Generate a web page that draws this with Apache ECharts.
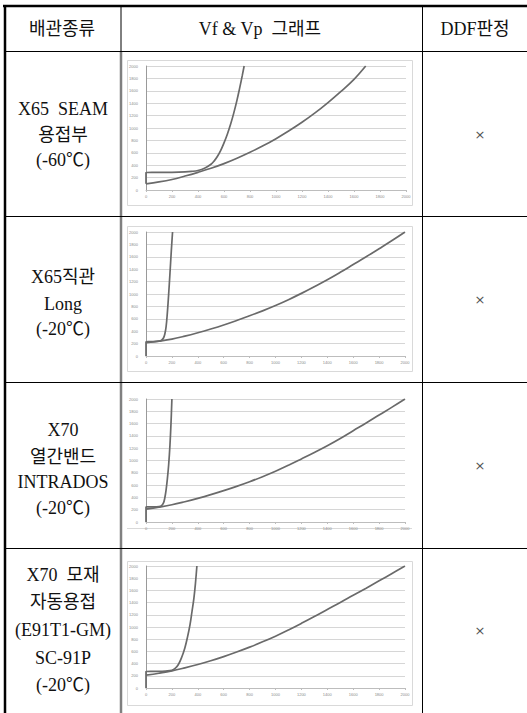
<!DOCTYPE html>
<html><head><meta charset="utf-8">
<script src="https://cdn.jsdelivr.net/npm/echarts@6/dist/echarts.min.js"></script>
<style>html,body{margin:0;padding:0;background:#fff}#c{width:527px;height:713px}</style>
</head><body><div id="c"></div>
<script>
// ---------- data ----------
const headers = ['배관종류', 'Vf & Vp  그래프', 'DDF판정'];
const rowLabels = [
  ['X65  SEAM', '용접부', '(-60℃)'],
  ['X65직관', 'Long', '(-20℃)'],
  ['X70', '열간밴드', 'INTRADOS', '(-20℃)'],
  ['X70  모재', '자동용접', '(E91T1-GM)', 'SC-91P', '(-20℃)']
];
const ddfResults = ['×', '×', '×', '×'];
const axisMin = 0, axisMax = 2000, axisStep = 200;

// steep curves
const vfSeam = [[0,100],[0,282],[100,283],[200,285],[300,292],[350,300],[400,315],[450,350],[500,415],[525,470],[550,545],[575,640],[600,760],[625,895],[650,1055],[675,1240],[700,1450],[720,1640],[740,1840],[755,2000]];
const vfLong = [[0,0],[0,230],[50,232],[100,240],[120,255],[135,290],[145,350],[155,470],[165,700],[175,1000],[185,1330],[195,1680],[205,2000]];
const vfIntrados = [[0,0],[0,245],[60,245],[100,250],[120,265],[135,310],[145,390],[155,520],[165,700],[175,930],[185,1250],[193,1600],[200,2000]];
const vfAuto = [[0,0],[0,270],[100,272],[150,278],[200,290],[225,320],[250,386],[275,500],[300,657],[320,830],[340,1038],[355,1250],[370,1473],[382,1720],[393,2000]];
// gradual curves
const vpSeam = [[0,100],[100,130],[200,170],[300,225],[400,285],[500,350],[600,425],[700,512],[800,608],[900,712],[1000,828],[1100,955],[1200,1092],[1300,1243],[1400,1410],[1500,1590],[1600,1785],[1690,2000]];
const vpLong = [[0,215],[100,240],[200,272],[300,320],[400,375],[500,435],[600,500],[700,572],[800,648],[900,728],[1000,814],[1100,908],[1200,1010],[1300,1118],[1400,1230],[1500,1350],[1600,1475],[1700,1600],[1800,1730],[1900,1862],[2000,2000]];
const vpIntrados = [[0,210],[100,242],[200,280],[300,330],[400,385],[500,445],[600,510],[700,580],[800,655],[900,737],[1000,825],[1100,922],[1200,1025],[1300,1130],[1400,1240],[1500,1358],[1600,1485],[1700,1610],[1800,1740],[1900,1868],[2000,2000]];
const vpAuto = [[0,210],[100,242],[200,280],[300,330],[400,385],[500,447],[600,515],[700,590],[800,670],[900,757],[1000,850],[1100,952],[1200,1060],[1300,1172],[1400,1288],[1500,1402],[1600,1520],[1700,1637],[1800,1757],[1900,1878],[2000,2000]];

const steepCurves = [vfSeam, vfLong, vfIntrados, vfAuto];
const gradualCurves = [vpSeam, vpLong, vpIntrados, vpAuto];

// ---------- layout ----------
const gridBoxes = [
  {left:146, top:66,  width:260, height:124},
  {left:146, top:232, width:259, height:124},
  {left:146, top:399, width:259, height:123},
  {left:146, top:566, width:259, height:122}
];
const rowTextY = [[109,135,160],[277,304,329],[430,457,482,508],[575,602,630,658,685]];
const rowCenters = [134, 299, 465, 630];

const FONT = '18px "Liberation Serif", "Noto Sans CJK KR", serif';
const grids = [], xAxes = [], yAxes = [], series = [];
gridBoxes.forEach((g, i) => {
  grids.push(Object.assign({containLabel:false}, g));
  xAxes.push({type:'value', gridIndex:i, min:axisMin, max:axisMax, interval:axisStep,
    axisLine:{show:true, onZero:false, lineStyle:{color:'#bdbdbd', width:1}},
    axisTick:{show:true, length:2, inside:false, lineStyle:{color:'#bdbdbd'}},
    axisLabel:{fontSize:4, color:'#8a8a8a', margin:4, fontFamily:'Arial', formatter:v => String(v)},
    splitLine:{show:false}});
  yAxes.push({type:'value', gridIndex:i, min:axisMin, max:axisMax, interval:axisStep,
    axisLine:{show:true, lineStyle:{color:'#9a9a9a', width:1}},
    axisTick:{show:false},
    axisLabel:{fontSize:4, color:'#8a8a8a', margin:8, fontFamily:'Arial', formatter:v => String(v)},
    splitLine:{show:true, lineStyle:{color:'#d6d6d6', width:1}}});
  [steepCurves[i], gradualCurves[i]].forEach((d) => {
    series.push({type:'line', xAxisIndex:i, yAxisIndex:i, data:d, showSymbol:false,
      smooth:0.4, silent:true, animation:false,
      lineStyle:{color:'#6a6a6a', width:1.7}});
  });
});

const graphic = [];
function line(x1,y1,x2,y2,color,w){ graphic.push({type:'line', silent:true, shape:{x1,y1,x2,y2}, style:{stroke:color, lineWidth:w}}); }
function text(t,x,y,font,color){ graphic.push({type:'text', silent:true, style:{text:t, x, y, font, fill:color||'#111', align:'center', verticalAlign:'middle'}}); }
function rect(x,y,w,h){ graphic.push({type:'rect', silent:true, shape:{x,y,width:w,height:h}, style:{fill:'none', stroke:'#d9d9d9', lineWidth:1}}); }

// chart frames
rect(127.5, 60.5, 285, 145);
rect(127.5, 226.5, 285, 145);
line(127, 528.5, 412, 528.5, '#d9d9d9', 1);
rect(127.5, 561.5, 285, 144);

// table lines
line(3, 6, 527, 6, '#000', 2.5);
line(5, 5, 5, 713, '#000', 2.5);
line(5, 51.5, 527, 51.5, '#000', 1);
line(121, 6, 121, 52, '#000', 1);
line(121, 52, 121, 713, '#808080', 2.5);
line(422.5, 6, 422.5, 713, '#000', 1);
[216.5, 382.5, 548.5].forEach(y => line(5, y, 527, y, '#000', 1));

// header texts
text(headers[0], 62, 29, FONT);
text(headers[1], 260, 29, FONT);
text(headers[2], 475, 29, FONT);

rowLabels.forEach((lines, i) => {
  lines.forEach((t, j) => text(t, 63, rowTextY[i][j], FONT));
  text(ddfResults[i], 480, rowCenters[i], '13px "DejaVu Sans", sans-serif', '#555');
});

const chart = echarts.init(document.getElementById('c'), null, {renderer:'svg', width:527, height:713});
chart.setOption({animation:false, backgroundColor:'#fff', grid:grids, xAxis:xAxes, yAxis:yAxes, series, graphic});
</script>
</body></html>
